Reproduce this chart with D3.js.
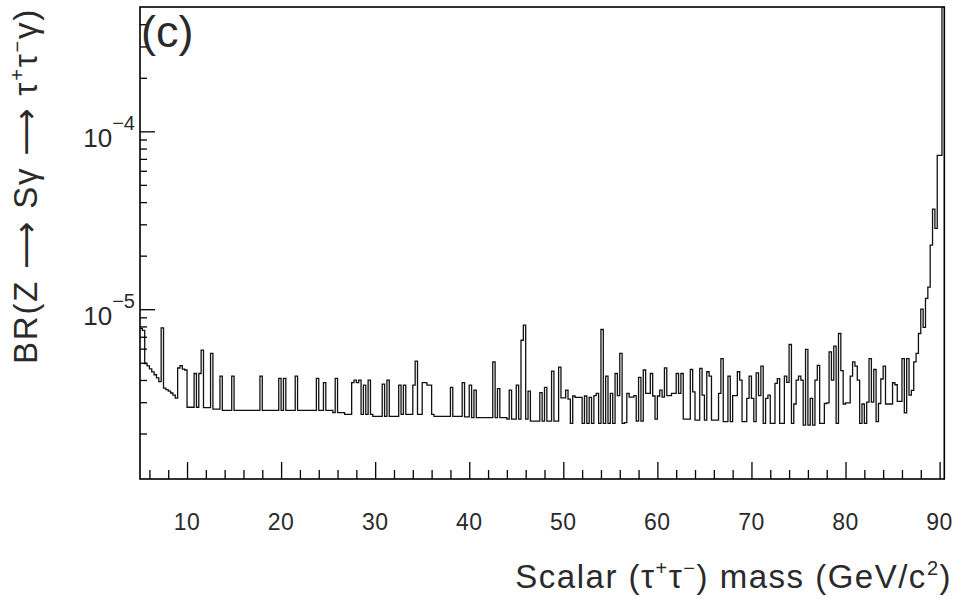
<!DOCTYPE html>
<html><head><meta charset="utf-8">
<script src="https://cdn.jsdelivr.net/npm/d3@7"></script>
<style>body{margin:0;background:#fff;} text{font-family:"Liberation Sans","DejaVu Sans",sans-serif;fill:#2a2a2a;}</style>
</head><body>
<svg id="chart" width="957" height="599"></svg>
<script>
// Histogram (step runs): each run starts at runStart[i] GeV and lasts until the next start
const runStart = [5.0,5.25,5.5,5.75,6.0,6.25,6.5,6.75,7.0,7.25,7.5,7.75,8.0,8.25,8.5,8.75,9.0,9.25,9.5,9.75,
  10.0,10.75,11.0,11.25,11.5,11.75,12.5,12.75,13.5,13.75,14.75,15.0,17.75,18.0,19.75,20.0,20.25,20.5,21.5,21.75,
  23.75,24.0,24.5,24.75,25.5,25.75,26.0,26.75,27.5,27.75,28.0,28.25,28.5,28.75,29.0,29.25,29.5,29.75,30.75,31.0,
  31.25,31.5,32.5,32.75,33.0,33.25,34.0,34.25,34.5,35.0,35.5,36.0,36.25,38.0,38.25,39.25,39.5,40.0,40.25,40.5,
  40.75,42.5,42.75,43.0,43.25,44.0,44.25,44.5,45.0,45.25,45.5,45.75,46.0,46.25,46.5,47.5,47.75,48.0,48.25,48.75,
  49.0,49.5,49.75,50.25,50.5,50.75,51.0,51.25,52.0,52.25,52.5,52.75,53.0,53.25,53.5,53.75,54.0,54.25,54.5,54.75,
  55.0,55.25,55.5,55.75,56.0,56.25,56.5,56.75,57.0,57.5,57.75,58.0,58.25,58.5,58.75,59.25,59.5,59.75,60.0,60.25,
  60.5,60.75,61.0,61.5,62.0,62.25,62.5,62.75,63.5,63.75,64.0,64.5,64.75,65.0,65.25,65.5,65.75,66.5,66.75,67.0,
  67.5,67.75,68.0,68.5,68.75,69.0,69.5,69.75,70.0,70.25,70.5,70.75,71.0,71.25,71.5,71.75,72.0,72.5,72.75,73.0,
  73.5,73.75,74.0,74.25,74.5,74.75,75.0,75.25,75.5,75.75,76.0,76.25,76.5,76.75,77.0,77.25,77.75,78.0,78.25,78.5,
  78.75,79.0,79.25,79.5,79.75,80.0,80.5,80.75,81.0,81.25,81.5,81.75,82.0,82.25,82.5,82.75,83.0,83.25,83.5,83.75,
  84.0,84.25,85.0,85.25,85.5,86.0,86.25,86.5,86.75,87.0,87.25,87.5,87.75,88.0,88.25,88.5,88.75,89.0,89.25,89.5,
  89.75,90.25];
const runValue = [7.8e-6,7.6e-6,4.95e-6,4.8e-6,4.62e-6,4.44e-6,4.28e-6,4.11e-6,3.92e-6,7.85e-6,3.6e-6,3.53e-6,3.46e-6,3.38e-6,3.29e-6,3.16e-6,4.67e-6,4.82e-6,4.6e-6,4.55e-6,
  2.81e-6,4.35e-6,2.81e-6,4.35e-6,5.89e-6,2.8e-6,5.65e-6,2.74e-6,4.2e-6,2.7e-6,4.2e-6,2.7e-6,4.2e-6,2.7e-6,4.08e-6,2.7e-6,4.08e-6,2.7e-6,4.2e-6,2.7e-6,
  4.08e-6,2.7e-6,3.87e-6,2.7e-6,2.62e-6,4.08e-6,2.62e-6,2.56e-6,3.87e-6,3.99e-6,3.87e-6,3.99e-6,2.56e-6,3.74e-6,2.56e-6,3.99e-6,2.56e-6,2.5e-6,3.79e-6,2.5e-6,
  3.99e-6,2.5e-6,3.74e-6,2.56e-6,3.74e-6,2.56e-6,3.74e-6,5.1e-6,2.56e-6,3.87e-6,3.74e-6,2.56e-6,2.5e-6,3.63e-6,2.5e-6,3.87e-6,2.48e-6,3.74e-6,2.46e-6,3.51e-6,
  2.46e-6,5.06e-6,2.46e-6,3.58e-6,2.46e-6,2.41e-6,3.51e-6,2.41e-6,3.74e-6,2.41e-6,6.69e-6,8.13e-6,2.41e-6,3.46e-6,2.35e-6,3.4e-6,2.35e-6,3.63e-6,2.35e-6,4.48e-6,
  2.35e-6,4.73e-6,3.17e-6,3.51e-6,3.12e-6,2.28e-6,3.25e-6,3.19e-6,2.28e-6,3.25e-6,2.28e-6,3.19e-6,2.28e-6,3.27e-6,3.36e-6,2.28e-6,7.69e-6,2.28e-6,4.2e-6,2.28e-6,
  3.36e-6,2.28e-6,4.35e-6,3.27e-6,5.65e-6,2.28e-6,2.3e-6,3.36e-6,3.2e-6,3.27e-6,2.35e-6,4.14e-6,2.35e-6,4.55e-6,3.36e-6,4.35e-6,3.25e-6,2.41e-6,3.25e-6,3.51e-6,
  3.2e-6,4.68e-6,3.27e-6,3.36e-6,4.35e-6,3.36e-6,4.35e-6,2.41e-6,4.58e-6,3.43e-6,2.38e-6,4.65e-6,3.29e-6,2.38e-6,4.45e-6,4.2e-6,2.38e-6,3.36e-6,5.28e-6,2.33e-6,
  4.2e-6,2.33e-6,3.27e-6,4.45e-6,3.99e-6,2.33e-6,3.15e-6,4.2e-6,3.15e-6,2.33e-6,4.38e-6,3.27e-6,4.78e-6,2.28e-6,3.15e-6,3.29e-6,2.28e-6,3.83e-6,4.07e-6,2.28e-6,
  4.2e-6,3.88e-6,6.33e-6,2.28e-6,2.93e-6,3.99e-6,4.2e-6,3.99e-6,2.23e-6,5.94e-6,2.23e-6,3.15e-6,2.23e-6,3.99e-6,4.83e-6,2.28e-6,2.95e-6,2.97e-6,5.75e-6,3.99e-6,
  6.2e-6,2.28e-6,7.3e-6,4.52e-6,2.93e-6,2.97e-6,4.2e-6,5.06e-6,4.78e-6,3.99e-6,2.28e-6,2.93e-6,2.28e-6,3.0e-6,5.28e-6,3.0e-6,4.58e-6,2.33e-6,2.95e-6,4.05e-6,
  4.78e-6,2.93e-6,3.86e-6,3.76e-6,3.03e-6,5.28e-6,2.61e-6,5.28e-6,3.29e-6,3.5e-6,5.06e-6,5.65e-6,7.3e-6,1.0e-5,7.9e-6,1.15e-5,1.33e-5,2.29e-5,3.65e-5,2.85e-5,
  7.33e-5,1.0e-3];
const massRange = [5.0, 90.5];
const brRange = [1.11e-6, 5e-4];
const xMajorTicks = [10,20,30,40,50,60,70,80,90];
const xMinorTicks = d3.range(6, 90.5, 2).filter(v => v % 10 !== 0);
const yMajorTicks = [1e-5, 1e-4];
const yMajorExp = ["\u22125", "\u22124"];
const yMinorTicks = [2e-6,3e-6,4e-6,5e-6,6e-6,7e-6,8e-6,9e-6,2e-5,3e-5,4e-5,5e-5,6e-5,7e-5,8e-5,9e-5,2e-4,3e-4,4e-4];

const L = 140, R = 944.3, T = 7, B = 479;
const svg = d3.select("#chart");
const x = d3.scaleLinear().domain(massRange).range([L, R]);
const y = d3.scaleLog().domain(brRange).range([B, T]);

svg.append("defs").append("clipPath").attr("id","clip")
  .append("rect").attr("x", L).attr("y", T).attr("width", R - L).attr("height", B - T);

// histogram
const pts = runStart.map((s, i) => [s, runValue[i]]);
pts.push([massRange[1], runValue[runValue.length - 1]]);
const line = d3.line().x(d => x(d[0])).y(d => y(d[1])).curve(d3.curveStepAfter);
svg.append("path").attr("clip-path","url(#clip)").attr("d", line(pts))
  .attr("fill","none").attr("stroke","#111").attr("stroke-width",1.3);

// axes
function styleAxis(g){ g.select(".domain").remove(); g.selectAll("line").attr("stroke","#000").attr("stroke-width",1.3); }
svg.append("g").attr("transform",`translate(0,${B})`)
  .call(d3.axisBottom(x).tickValues(xMajorTicks).tickSize(-17).tickFormat(""))
  .call(styleAxis);
svg.append("g").attr("transform",`translate(0,${B})`)
  .call(d3.axisBottom(x).tickValues(xMinorTicks).tickSize(-9).tickFormat(""))
  .call(styleAxis);
svg.append("g").attr("transform",`translate(${L},0)`)
  .call(d3.axisLeft(y).tickValues(yMajorTicks).tickSize(-15).tickFormat(""))
  .call(styleAxis);
svg.append("g").attr("transform",`translate(${L},0)`)
  .call(d3.axisLeft(y).tickValues(yMinorTicks).tickSize(-7).tickFormat(""))
  .call(styleAxis);

// frame
svg.append("rect").attr("x",L).attr("y",T).attr("width",R-L).attr("height",B-T)
  .attr("fill","none").attr("stroke","#000").attr("stroke-width",1.6);

// x tick labels
svg.selectAll(".xl").data(xMajorTicks).enter().append("text")
  .attr("x", d => x(d)).attr("y", 530).attr("text-anchor","middle")
  .attr("font-size",23).attr("letter-spacing",0.5).text(d => d);

// y tick labels
yMajorTicks.forEach((v, i) => {
  const t = svg.append("text").attr("x", 135).attr("y", y(v) + 16).attr("text-anchor","end").attr("font-size",26);
  t.append("tspan").text("10");
  t.append("tspan").attr("dy",-17).attr("font-size",20).text(yMajorExp[i]);
});

// (c) label
svg.append("text").attr("x",141).attr("y",47).attr("font-size",45).attr("font-weight",300).text("(c)");

// x title
const xt = svg.append("text").attr("x",952).attr("y",588).attr("text-anchor","end").attr("font-size",33).attr("letter-spacing",1.5);
xt.append("tspan").text("Scalar (\u03c4");
xt.append("tspan").attr("dy",-13).attr("font-size",20).text("+");
xt.append("tspan").attr("dy",13).text("\u03c4");
xt.append("tspan").attr("dy",-13).attr("font-size",20).text("\u2212");
xt.append("tspan").attr("dy",13).text(") mass (GeV/c");
xt.append("tspan").attr("dy",-13).attr("font-size",20).text("2");
xt.append("tspan").attr("dy",13).text(")");

// y title
const yt = svg.append("text").attr("transform","translate(37,186) rotate(-90)").attr("text-anchor","middle").attr("font-size",33).attr("letter-spacing",1.8);
yt.append("tspan").text("BR(Z \u27f6 S\u03b3 \u27f6 \u03c4");
yt.append("tspan").attr("dy",-13).attr("font-size",20).text("+");
yt.append("tspan").attr("dy",13).text("\u03c4");
yt.append("tspan").attr("dy",-13).attr("font-size",20).text("\u2212");
yt.append("tspan").attr("dy",13).text("\u03b3)");
</script>
</body></html>
